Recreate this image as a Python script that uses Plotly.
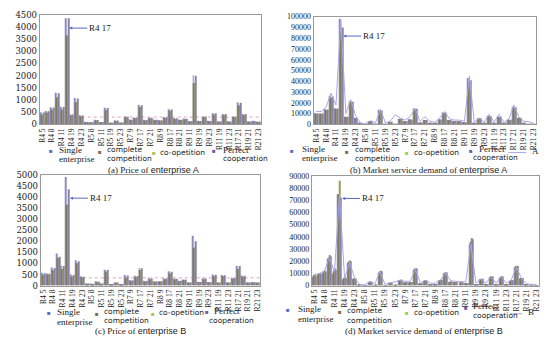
import plotly.graph_objects as go
from plotly.subplots import make_subplots

categories = ["R4 5","R4 7","R4 8","R4 9","R4 11","R4 17","R4 19","R4 21","R4 23",
              "R5 7","R5 8","R5 9","R5 11","R5 17","R5 19","R5 21","R5 23",
              "R7 8","R7 9","R7 11","R7 17","R7 19","R7 21","R7 23",
              "R8 9","R8 11","R8 17","R8 19","R8 21","R8 23",
              "R9 11","R9 17","R9 19","R9 21","R9 23",
              "R11 17","R11 19","R11 21","R11 23",
              "R17 19","R17 21","R17 23","R19 21","R19 23","R21 23"]
tick_labels = categories[::2]
series_names = ["Single enterprise", "complete competition", "co-opetition", "Perfect cooperation"]

# (a) Price of enterprise A
price_a_single   = [500,550,700,1300,720,4350,420,1080,380,110,90,190,100,680,70,170,80,320,200,280,800,190,280,200,180,300,620,260,200,240,140,2020,150,330,150,460,130,430,130,330,900,430,130,150,120]
price_a_complete = [400,480,600,1100,600,3650,370,900,330,90,75,160,85,580,55,140,65,280,170,250,700,160,240,170,150,260,550,220,180,210,120,1700,130,290,130,400,110,380,110,290,780,380,110,130,100]
price_a_coop     = [410,490,610,1120,610,3650,380,920,340,95,75,165,85,590,55,145,65,285,175,255,710,165,245,175,155,265,560,225,185,215,120,1700,130,295,130,405,110,385,110,295,790,385,110,130,100]
price_a_perfect  = [490,540,690,1280,710,4350,410,1060,370,105,85,185,95,670,65,165,75,315,195,275,790,185,275,195,175,295,610,255,195,235,135,2000,145,325,145,455,125,425,125,325,890,425,125,145,115]

# (b) Market service demand of enterprise A
demand_a_single   = [10500,10200,14000,26500,15000,98000,7300,21500,6300,900,450,3200,550,13500,450,2500,550,5200,3100,4700,14800,1900,4200,850,1400,4700,11200,4200,3100,3100,2100,43000,1400,5800,850,8000,950,7500,950,4500,16500,6300,950,550,350]
demand_a_complete = [10000,10000,13500,25000,14500,86000,7000,20500,6000,800,400,3000,500,12500,400,2300,500,5000,3000,4500,14000,1800,4000,800,1300,4500,10500,4000,3000,3000,2000,39000,1300,5500,800,7500,900,7000,900,4300,15500,6000,900,500,300]
demand_a_coop     = [9800,9900,13200,24500,14200,86000,6800,20000,5900,750,400,2900,480,12200,400,2200,480,4900,2900,4400,13800,1750,3900,780,1250,4400,10300,3900,2900,2900,1950,40000,1250,5400,780,7400,880,6900,880,4200,15200,5900,880,480,300]
demand_a_perfect  = [10200,10100,13800,26000,14800,90000,7200,21000,6200,850,430,3100,520,13000,430,2400,520,5100,3050,4600,14500,1850,4100,820,1350,4600,11000,4100,3050,3050,2050,41000,1350,5700,820,7800,920,7300,920,4400,16000,6200,920,520,330]
demand_a_line     = [12000,12000,16000,29000,18000,97000,10000,23000,8000,1000,500,3500,1500,14000,1500,3000,9000,6000,4000,7000,15000,3000,7000,3000,2000,6000,12000,5000,4000,4000,3000,45000,2000,6000,2000,9500,2000,9500,2000,5000,18000,7000,3000,2500,1000]

# (c) Price of enterprise B
price_b_single   = [580,550,820,1450,900,4900,500,1150,420,100,90,200,100,720,60,150,70,480,250,450,800,220,330,200,200,330,650,320,230,280,150,2250,170,330,160,500,150,480,150,350,900,460,150,160,150]
price_b_complete = [480,500,700,1250,750,3650,400,1000,370,85,75,150,85,620,50,130,60,350,200,380,700,190,280,170,180,280,550,280,200,250,130,1700,150,280,140,430,130,420,130,300,750,400,130,140,130]
price_b_coop     = [490,510,710,1270,760,3650,410,1020,375,85,75,155,85,630,50,130,60,360,205,385,710,190,285,175,180,285,560,285,205,255,130,1720,150,285,140,435,130,425,130,305,760,405,130,140,130]
price_b_perfect  = [560,540,800,1300,880,4350,480,1100,400,95,85,190,95,700,55,145,65,460,240,430,780,210,320,190,195,320,630,310,220,270,145,2000,165,320,155,490,145,470,145,340,880,450,145,155,145]

# (d) Market service demand of enterprise B
demand_b_single   = [7000,9000,10500,22000,9500,75000,5000,18500,5500,500,400,2800,500,10500,400,2000,500,4300,2500,2500,13000,1800,3800,800,1000,4300,10000,3000,2800,2500,2000,34000,1000,5200,900,7000,900,6500,900,4000,15000,5800,900,500,400]
demand_b_complete = [8500,9500,11000,23000,12000,75000,6000,19500,5800,600,450,3000,550,11500,450,2200,550,4600,2700,2800,13800,1900,4100,900,1100,4600,10600,3200,3000,2700,2100,36000,1100,5500,950,7400,950,7200,950,4200,15800,6100,950,550,450]
demand_b_coop     = [9000,10000,12500,25000,14000,86000,7000,20500,6000,650,500,3200,600,12200,500,2300,600,4800,2900,3000,14200,2000,4300,950,1200,4800,11000,3400,3100,2800,2200,39000,1200,5700,1000,7700,1000,7600,1000,4400,16200,6300,1000,600,500]
demand_b_perfect  = [8000,9800,11500,24000,13000,72000,6500,20000,5900,600,450,3100,550,11800,450,2200,550,4700,2800,2900,14000,1950,4200,900,1150,4700,10800,3300,3000,2750,2150,38000,1150,5600,980,7500,980,7400,980,4300,16000,6200,980,580,480]
demand_b_line     = [9000,10000,12000,23000,11000,75000,6000,19000,6000,1000,600,3500,1500,11500,1000,2500,3000,4500,3500,3500,13500,2500,4500,2000,2000,4500,10500,4000,3500,3500,3000,34000,2000,5500,2000,7500,2000,7500,2000,4500,15500,6000,1500,1000,1000]

bar_colors = ["#8a8ebe", "#7b6f55", "#989a5e", "#8880a6"]
legend_colors = ["#5a68c8", "#7a6a4c", "#a8c450", "#6a5aa8"]
line_color = "#a9a6e6"

W, H = 550, 344
SERIF = "Liberation Serif"
SANS = "DejaVu Sans"

def px(x):
    return x / W

def py(y):
    return 1 - y / H

fig = make_subplots(rows=2, cols=2)

panels = [
    (1, 1, [price_a_single, price_a_complete, price_a_coop, price_a_perfect], None),
    (1, 2, [demand_a_single, demand_a_complete, demand_a_coop, demand_a_perfect], demand_a_line),
    (2, 1, [price_b_single, price_b_complete, price_b_coop, price_b_perfect], None),
    (2, 2, [demand_b_single, demand_b_complete, demand_b_coop, demand_b_perfect], demand_b_line),
]

for r, c, series, line in panels:
    for name, vals, col in zip(series_names, series, bar_colors):
        fig.add_trace(go.Bar(x=categories, y=vals, name=name, marker_color=col,
                             marker_line_width=0, showlegend=False), row=r, col=c)
    if line is not None:
        fig.add_trace(go.Scatter(x=categories, y=line, mode="lines", name="A" if r == 1 else "B",
                                 line=dict(color=line_color, width=1), showlegend=False), row=r, col=c)

# axis geometry (pixels)
geom = {
    1: dict(x0=38, x1=261, y0=10, y1=123, rng=[0, 4500], dt=500, yf=("DejaVu Serif", 8.5)),
    2: dict(x0=314, x1=538, y0=12, y1=123, rng=[0, 100000], dt=10000, yf=(SERIF, 8)),
    3: dict(x0=39, x1=260, y0=175, y1=289, rng=[0, 5000], dt=500, yf=("DejaVu Serif", 8.5)),
    4: dict(x0=312, x1=541, y0=176, y1=289, rng=[0, 90000], dt=10000, yf=(SERIF, 8)),
}
for i, g in geom.items():
    xa = "xaxis" if i == 1 else f"xaxis{i}"
    ya = "yaxis" if i == 1 else f"yaxis{i}"
    fig.layout[xa].update(domain=[px(g["x0"]), px(g["x1"])], range=[-0.5, 44.5],
                          tickmode="array", tickvals=tick_labels, ticktext=tick_labels,
                          tickangle=-90, tickfont=dict(family=SERIF, size=7.5, color="#222"),
                          showline=True, linecolor="#9a9a9a", linewidth=1, mirror=True,
                          showgrid=False, ticks="", ticklen=0)
    fig.layout[ya].update(domain=[py(g["y1"]), py(g["y0"])], range=g["rng"], dtick=g["dt"],
                          tickfont=dict(family=g["yf"][0], size=g["yf"][1], color="#222"),
                          showline=True, linecolor="#9a9a9a", linewidth=1, mirror=True,
                          showgrid=False, zeroline=False, ticks="", tickformat="d")

# dotted reference lines in price panels
fig.add_hline(y=300, line=dict(color="#e6a3b6", width=1, dash="dot"), row=1, col=1, layer="below")
fig.add_hline(y=350, line=dict(color="#e6a3b6", width=1, dash="dot"), row=2, col=1, layer="below")

# R4 17 callouts
callouts = [("x", "y", 5.5, 3950, 18), ("x2", "y2", 5.5, 82000, 18),
            ("x3", "y3", 5.5, 3950, 18), ("x4", "y4", 5.5, 71500, 18)]
for xr, yr, xv, yv, ax in callouts:
    fig.add_annotation(x=xv, y=yv, xref=xr, yref=yr, text="R4 17", showarrow=True,
                       ax=ax, ay=0, arrowhead=2, arrowsize=0.6, arrowwidth=1,
                       arrowcolor="#5a68c8", xanchor="left",
                       font=dict(family=SERIF, size=9, color="#222"))

def txt(s, x, y, family, size=None, xanchor="left"):
    if size is None:
        size = 9 if family == SERIF else 7.5
    fig.add_annotation(x=px(x), y=py(y), xref="paper", yref="paper", text=s, showarrow=False,
                       xanchor=xanchor, yanchor="middle", font=dict(family=family, size=size, color="#222"))

def mark(color, x, y):
    fig.add_annotation(x=px(x), y=py(y), xref="paper", yref="paper", text="■", showarrow=False,
                       xanchor="center", yanchor="middle", font=dict(size=6, color=color))

legends = [
    dict(m=[(49, 150), (99, 151), (153, 152), (214, 150)],
         t=[("Single", 55, 149, SERIF), ("enterprise", 55, 159, SERIF),
            ("complete", 104, 149, SANS), ("competition", 104, 158, SANS),
            ("co-opetition", 157, 152, SANS),
            ("Perfect", 221, 149, SERIF), ("cooperation", 221, 158, SANS)],
         line=None),
    dict(m=[(292, 150), (348, 151), (408, 152), (472, 150)],
         t=[("Single", 300, 148, SERIF), ("enterprise", 300, 158, SERIF),
            ("complete", 354, 149, SANS), ("competition", 354, 158, SANS),
            ("co-opetition", 413, 152, SANS),
            ("Perfect", 478, 148, SERIF), ("cooperation", 472, 157, SANS)],
         line=(510, 528, 152, "A", 532)),
    dict(m=[(47, 317), (96, 318), (152, 318), (207, 316)],
         t=[("Single", 53, 316, SERIF), ("enterprise", 53, 326, SERIF),
            ("complete", 101, 316, SANS), ("competition", 101, 325, SANS),
            ("co-opetition", 156, 317, SANS),
            ("Perfect", 212, 315, SERIF), ("cooperation", 207, 325, SANS)],
         line=None),
    dict(m=[(288, 314), (340, 316), (408, 317), (467, 312)],
         t=[("Single", 296, 313, SERIF), ("enterprise", 296, 323, SERIF),
            ("complete", 346, 315, SANS), ("competition", 346, 325, SANS),
            ("co-opetition", 413, 317, SANS),
            ("Perfect", 472, 310, SERIF), ("cooperation", 472, 320, SANS)],
         line=(512, 524, 318, "B", 528)),
]
for lg in legends:
    for col, (mx, my) in zip(legend_colors, lg["m"]):
        mark(col, mx, my)
    for s, x, y, fam in lg["t"]:
        txt(s, x, y, fam)
    if lg["line"]:
        x0, x1, yy, lab, lx = lg["line"]
        fig.add_shape(type="line", xref="paper", yref="paper", x0=px(x0), x1=px(x1),
                      y0=py(yy), y1=py(yy), line=dict(color=line_color, width=1))
        txt(lab, lx, yy - 2, SERIF)

captions = [
    ("(a) Price of ", "enterprise A", 153, 170),
    ("(b) Market service demand of ", "enterprise A", 430, 170),
    ("(c) Price of ", "enterprise B", 140, 336),
    ("(d) Market service demand of ", "enterprise B", 425, 336),
]
for pre, ent, x, y in captions:
    txt(pre + f"<span style='font-family:Liberation Sans'>{ent}</span>", x, y, SERIF, size=9, xanchor="center")

fig.update_layout(width=W, height=H, margin=dict(l=0, r=0, t=0, b=0),
                  barmode="group", bargap=0.2, bargroupgap=0,
                  plot_bgcolor="white", paper_bgcolor="white", showlegend=False)

fig.write_html("out.html", config={"displayModeBar": False},
               post_script="document.body.style.margin='0';document.body.style.padding='0';")
